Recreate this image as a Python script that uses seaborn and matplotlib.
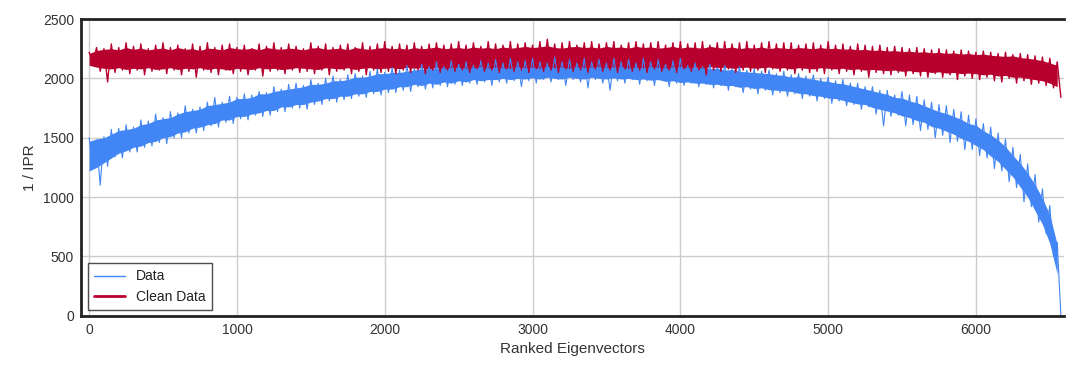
import numpy as np
import pandas as pd
import matplotlib
matplotlib.use("Agg")
import matplotlib.pyplot as plt
import seaborn as sns

LINE_STEP = 25       # spacing (in eigenvector rank) of the sampled line values
BAND_STEP = 50       # spacing of the read band edges

data_vals = [
    1500, 1290, 1480, 1100, 1510, 1260, 1570, 1340, 1580, 1330,
    1610, 1380, 1590, 1380, 1650, 1420, 1640, 1430, 1700, 1460,
    1670, 1450, 1720, 1500, 1710, 1500, 1770, 1540, 1740, 1540,
    1760, 1560, 1800, 1600, 1840, 1590, 1800, 1630, 1850, 1620,
    1840, 1660, 1870, 1650, 1860, 1690, 1890, 1680, 1880, 1690,
    1930, 1720, 1910, 1720, 1950, 1750, 1960, 1750, 1940, 1740,
    1990, 1780, 1960, 1780, 2000, 1810, 2020, 1800, 1990, 1820,
    2030, 1830, 2040, 1850, 2020, 1840, 2060, 1870, 2080, 1860,
    2050, 1880, 2090, 1880, 2070, 1900, 2110, 1890, 2080, 1930,
    2120, 1910, 2100, 1920, 2140, 1940, 2100, 1930, 2150, 1950,
    2120, 1940, 2140, 1960, 2110, 1950, 2150, 1970, 2130, 1940,
    2160, 1970, 2130, 1960, 2170, 1980, 2140, 1930, 2150, 1980,
    2170, 1960, 2140, 1990, 2130, 1970, 2180, 1990, 2140, 1940,
    2160, 1990, 2130, 1970, 2170, 1920, 2140, 1990, 2160, 1960,
    2130, 1900, 2170, 1980, 2140, 1960, 2160, 1990, 2130, 1950,
    2170, 1980, 2140, 1940, 2160, 1990, 2120, 1930, 2150, 1960,
    2170, 1940, 2110, 1960, 2130, 1930, 2100, 1950, 2120, 1920,
    2090, 1940, 2110, 1900, 2080, 1930, 2100, 1880, 2070, 1910,
    2080, 1870, 2060, 1900, 2070, 1860, 2040, 1880, 2060, 1850,
    2030, 1870, 2040, 1830, 2020, 1850, 2030, 1810, 2000, 1830,
    2010, 1790, 1980, 1810, 1990, 1770, 1960, 1780, 1960, 1740,
    1930, 1760, 1930, 1700, 1900, 1600, 1900, 1680, 1860, 1690,
    1890, 1600, 1860, 1610, 1850, 1560, 1820, 1570, 1800, 1500,
    1780, 1520, 1770, 1460, 1740, 1470, 1720, 1400, 1690, 1400,
    1660, 1350, 1620, 1330, 1590, 1240, 1540, 1220, 1490, 1130,
    1420, 1080, 1360, 960, 1280, 920, 1190, 790, 1070, 690,
    930, 500, 620, 0,
]
clean_vals = [
    2220, 2130, 2260, 2060, 2250, 1970, 2290, 2050, 2260, 2070,
    2300, 2040, 2270, 2070, 2290, 2030, 2250, 2060, 2280, 2070,
    2300, 2040, 2260, 2070, 2280, 2030, 2250, 2060, 2290, 2010,
    2270, 2070, 2300, 2050, 2260, 2030, 2280, 2070, 2290, 2040,
    2260, 2060, 2280, 2030, 2250, 2070, 2290, 2020, 2270, 2060,
    2300, 2070, 2260, 2040, 2290, 2070, 2270, 2050, 2250, 2060,
    2300, 2040, 2270, 2070, 2290, 2030, 2260, 2060, 2280, 2070,
    2290, 2040, 2260, 2060, 2300, 2030, 2270, 2070, 2290, 2050,
    2310, 2060, 2270, 2040, 2290, 2070, 2280, 2050, 2300, 2070,
    2270, 2040, 2290, 2070, 2300, 2050, 2280, 2070, 2290, 2060,
    2310, 2070, 2280, 2050, 2300, 2080, 2270, 2060, 2310, 2070,
    2290, 2050, 2280, 2080, 2310, 2060, 2290, 2070, 2300, 2050,
    2280, 2080, 2310, 2060, 2330, 2070, 2290, 2050, 2300, 2080,
    2310, 2060, 2280, 2070, 2300, 2050, 2310, 2080, 2290, 2060,
    2300, 2070, 2310, 2050, 2280, 2080, 2300, 2060, 2310, 2070,
    2290, 2050, 2300, 2080, 2310, 2060, 2280, 2070, 2300, 2050,
    2310, 2080, 2290, 2060, 2300, 2070, 2310, 2030, 2280, 2070,
    2300, 2060, 2310, 2080, 2290, 2050, 2300, 2070, 2310, 2060,
    2280, 2070, 2300, 2050, 2310, 2080, 2290, 2060, 2300, 2070,
    2300, 2040, 2280, 2070, 2290, 2050, 2300, 2060, 2280, 2040,
    2310, 2070, 2280, 2040, 2290, 2060, 2270, 2030, 2290, 2060,
    2280, 2010, 2270, 2050, 2280, 2040, 2260, 2030, 2270, 2050,
    2260, 2020, 2250, 2040, 2260, 2020, 2250, 2010, 2240, 2040,
    2250, 2010, 2240, 2030, 2230, 1990, 2240, 2020, 2230, 2000,
    2220, 1990, 2230, 2010, 2220, 1980, 2210, 1970, 2220, 2000,
    2200, 1960, 2210, 1980, 2200, 1950, 2190, 1960, 2180, 1940,
    2170, 1920, 2140, 1840,
]

# upper / lower edges of the dense core of the noise band of each series
data_upper = [
    1470, 1490, 1500, 1530, 1560, 1570, 1580, 1610, 1620, 1650,
    1660, 1670, 1700, 1720, 1730, 1740, 1770, 1780, 1790, 1800,
    1830, 1830, 1840, 1870, 1870, 1890, 1900, 1910, 1920, 1930,
    1950, 1950, 1960, 1980, 1980, 1990, 2010, 2010, 2020, 2040,
    2040, 2050, 2050, 2060, 2070, 2080, 2080, 2090, 2090, 2100,
    2100, 2110, 2100, 2110, 2120, 2110, 2120, 2130, 2120, 2120,
    2130, 2130, 2120, 2130, 2125, 2135, 2120, 2130, 2130, 2120,
    2125, 2135, 2120, 2125, 2115, 2120, 2115, 2105, 2110, 2100,
    2105, 2095, 2090, 2095, 2080, 2085, 2070, 2075, 2060, 2055,
    2050, 2045, 2040, 2030, 2025, 2010, 2015, 2000, 1995, 1980,
    1975, 1960, 1955, 1940, 1925, 1910, 1895, 1880, 1865, 1840,
    1835, 1810, 1795, 1770, 1745, 1720, 1705, 1680, 1655, 1620,
    1605, 1560, 1525, 1480, 1425, 1350, 1285, 1200, 1105, 990,
    850, 600,
]
data_lower = [
    1220, 1250, 1290, 1330, 1370, 1390, 1420, 1430, 1460, 1470,
    1500, 1510, 1540, 1550, 1580, 1590, 1610, 1620, 1650, 1650,
    1680, 1680, 1700, 1710, 1730, 1730, 1760, 1760, 1780, 1780,
    1800, 1810, 1830, 1830, 1850, 1850, 1870, 1870, 1890, 1890,
    1910, 1910, 1930, 1930, 1950, 1940, 1960, 1950, 1970, 1960,
    1980, 1970, 1990, 1980, 1990, 1990, 2000, 1990, 2000, 1995,
    2005, 1995, 2010, 2000, 1995, 2010, 2000, 1995, 2010, 2000,
    1995, 2005, 1995, 2000, 1990, 1995, 1985, 1990, 1975, 1980,
    1965, 1970, 1960, 1960, 1950, 1950, 1940, 1940, 1925, 1930,
    1915, 1920, 1905, 1900, 1895, 1890, 1875, 1870, 1855, 1850,
    1835, 1830, 1815, 1800, 1785, 1780, 1755, 1740, 1725, 1710,
    1685, 1670, 1645, 1630, 1595, 1580, 1555, 1530, 1495, 1470,
    1435, 1400, 1345, 1300, 1235, 1170, 1085, 1000, 885, 770,
    610, 350,
]
clean_upper = [
    2210, 2235, 2245, 2250, 2240, 2260, 2245, 2255, 2240, 2250,
    2255, 2240, 2260, 2245, 2250, 2235, 2255, 2250, 2240, 2260,
    2250, 2245, 2255, 2240, 2260, 2250, 2245, 2255, 2250, 2240,
    2255, 2260, 2245, 2250, 2255, 2240, 2260, 2250, 2245, 2255,
    2260, 2250, 2255, 2245, 2260, 2250, 2255, 2265, 2250, 2255,
    2260, 2250, 2265, 2255, 2260, 2250, 2265, 2255, 2260, 2270,
    2260, 2265, 2275, 2260, 2255, 2265, 2270, 2260, 2265, 2255,
    2270, 2260, 2265, 2255, 2270, 2260, 2265, 2255, 2260, 2270,
    2255, 2265, 2260, 2255, 2270, 2260, 2255, 2265, 2250, 2260,
    2255, 2265, 2250, 2260, 2255, 2250, 2260, 2255, 2250, 2260,
    2250, 2255, 2245, 2250, 2240, 2245, 2235, 2240, 2230, 2235,
    2225, 2230, 2220, 2225, 2215, 2220, 2210, 2215, 2205, 2210,
    2200, 2205, 2195, 2190, 2185, 2190, 2175, 2170, 2160, 2150,
    2130, 2110,
]
clean_lower = [
    2110, 2095, 2085, 2080, 2090, 2075, 2085, 2080, 2090, 2075,
    2080, 2090, 2075, 2085, 2080, 2090, 2075, 2085, 2080, 2070,
    2085, 2080, 2075, 2090, 2080, 2085, 2075, 2080, 2090, 2085,
    2080, 2075, 2090, 2085, 2080, 2090, 2075, 2085, 2090, 2080,
    2085, 2090, 2080, 2095, 2085, 2090, 2080, 2095, 2085, 2090,
    2095, 2085, 2090, 2100, 2085, 2095, 2090, 2085, 2100, 2090,
    2095, 2085, 2100, 2090, 2095, 2085, 2100, 2090, 2095, 2100,
    2090, 2095, 2100, 2085, 2095, 2090, 2100, 2095, 2085, 2095,
    2100, 2090, 2095, 2085, 2100, 2090, 2095, 2085, 2090, 2095,
    2085, 2090, 2095, 2085, 2090, 2080, 2090, 2085, 2080, 2090,
    2085, 2080, 2085, 2075, 2080, 2070, 2075, 2070, 2065, 2070,
    2060, 2065, 2055, 2060, 2050, 2055, 2045, 2050, 2040, 2045,
    2040, 2030, 2035, 2020, 2025, 2010, 2010, 2000, 1990, 1980,
    1960, 1930,
]

series_names = ["Data", "Clean Data"]
x_ticks = [0, 1000, 2000, 3000, 4000, 5000, 6000]
y_ticks = [0, 500, 1000, 1500, 2000, 2500]

# ---- derived positions -----------------------------------------------
line_rank = np.arange(len(data_vals)) * LINE_STEP
band_rank = np.arange(len(data_upper)) * BAND_STEP

BLUE = "#4285f4"
RED = "#b8002e"

sns.set_theme(style="whitegrid")
plt.rcParams['font.family'] = ['Liberation Sans', 'DejaVu Sans']

fig = plt.figure(figsize=(10.66, 3.66), dpi=100)
ax = fig.add_axes([0.076, 0.137, 0.922, 0.811])

df_data = pd.DataFrame({"rank": line_rank, "val": data_vals})
df_clean = pd.DataFrame({"rank": line_rank, "val": clean_vals})

ax.fill_between(band_rank, data_lower, data_upper, color=BLUE, linewidth=0)
sns.lineplot(data=df_data, x="rank", y="val", ax=ax, color=BLUE,
             linewidth=0.8, label=series_names[0])
ax.fill_between(band_rank, clean_lower, clean_upper, color=RED, linewidth=0)
sns.lineplot(data=df_clean, x="rank", y="val", ax=ax, color=RED,
             linewidth=1.0, label=series_names[1])

ax.set_xlim(-55, 6595)
ax.set_ylim(0, 2500)
ax.set_xticks(x_ticks)
ax.set_yticks(y_ticks)
ax.tick_params(axis='both', length=0, labelsize=10, colors="#333333", pad=5)
ax.grid(True, color="#cccccc", linewidth=1)
ax.set_xlabel("Ranked Eigenvectors", fontsize=11, color="#333333")
ax.set_ylabel("1 / IPR", fontsize=11, color="#333333")
for side in ["left", "bottom", "top"]:
    ax.spines[side].set_visible(True)
    ax.spines[side].set_color("#222222")
    ax.spines[side].set_linewidth(2)
ax.spines["right"].set_visible(False)

leg = ax.legend(loc="lower left", bbox_to_anchor=(0.007, 0.02), borderaxespad=0,
                fontsize=10, frameon=True, fancybox=False, handlelength=2.2,
                borderpad=0.45, labelspacing=0.45)
leg.get_frame().set_edgecolor("#222222")
leg.get_frame().set_linewidth(1)
leg.get_lines()[0].set_linewidth(1.0)
leg.get_lines()[1].set_linewidth(2)
for t in leg.get_texts():
    t.set_color("#222222")

fig.savefig("out.png", dpi=100)
